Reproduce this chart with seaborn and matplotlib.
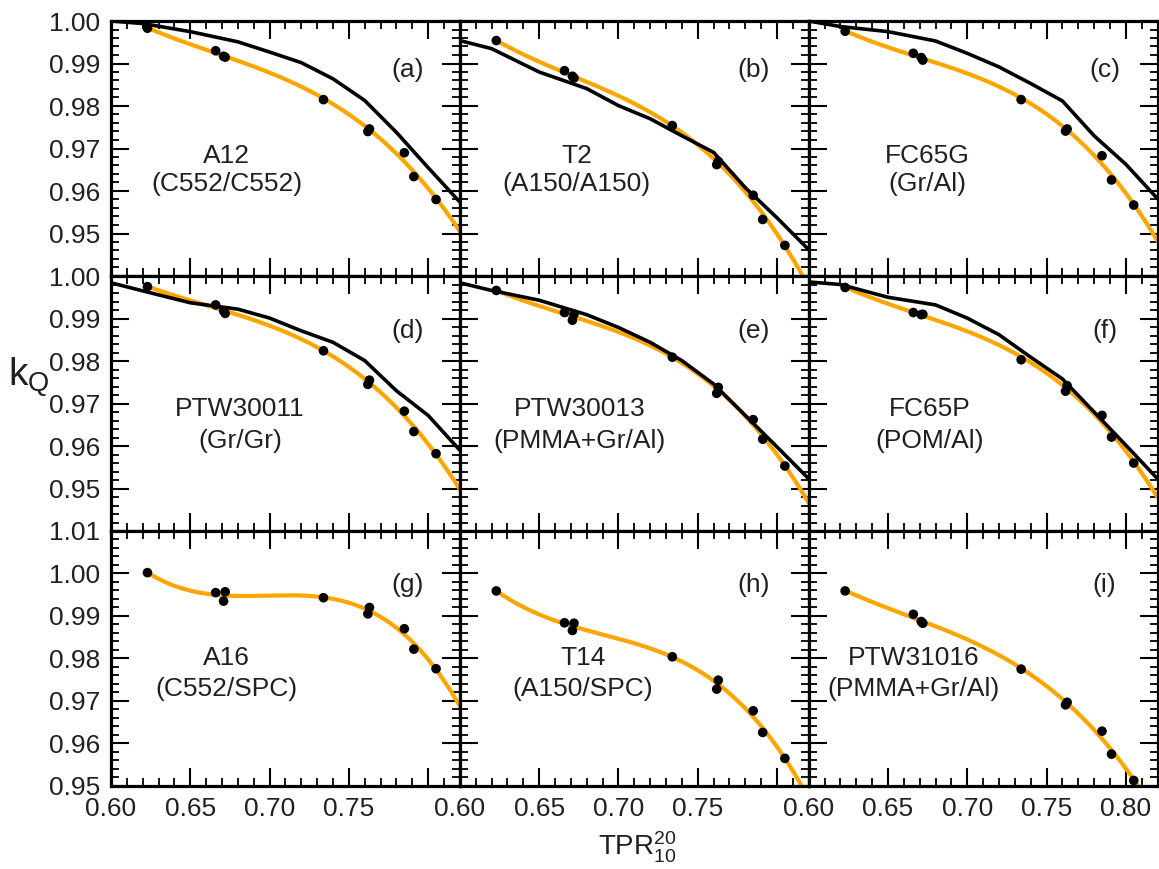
import numpy as np
import matplotlib
matplotlib.use("Agg")
import matplotlib.pyplot as plt
from matplotlib.ticker import MultipleLocator
import seaborn as sns

# beam qualities of the measured points (same for every chamber)
tpr = [0.623, 0.666, 0.671, 0.672, 0.734, 0.762, 0.763, 0.785, 0.791, 0.805]

# measured kQ, one list per chamber
kq_a = [0.9983, 0.9930, 0.9917, 0.9915, 0.9815, 0.9740, 0.9746, 0.9690, 0.9634, 0.9580]
kq_b = [0.9954, 0.9883, 0.9870, 0.9866, 0.9754, 0.9662, 0.9670, 0.9590, 0.9533, 0.9472]
kq_c = [0.9976, 0.9924, 0.9914, 0.9908, 0.9815, 0.9741, 0.9746, 0.9683, 0.9626, 0.9567]
kq_d = [0.9975, 0.9932, 0.9918, 0.9912, 0.9824, 0.9745, 0.9755, 0.9682, 0.9634, 0.9582]
kq_e = [0.9966, 0.9914, 0.9896, 0.9910, 0.9809, 0.9724, 0.9738, 0.9662, 0.9616, 0.9553]
kq_f = [0.9973, 0.9914, 0.9909, 0.9910, 0.9803, 0.9729, 0.9742, 0.9672, 0.9621, 0.9560]
kq_g = [1.0002, 0.9955, 0.9935, 0.9957, 0.9943, 0.9905, 0.9920, 0.9870, 0.9822, 0.9776]
kq_h = [0.9959, 0.9884, 0.9866, 0.9883, 0.9804, 0.9728, 0.9749, 0.9677, 0.9626, 0.9565]
kq_i = [0.9959, 0.9904, 0.9887, 0.9883, 0.9775, 0.9691, 0.9697, 0.9629, 0.9575, 0.9513]

# protocol table values (black lines, panels a-f)
tpr_ref = [0.60, 0.62, 0.65, 0.68, 0.70, 0.72, 0.74, 0.76, 0.78, 0.80, 0.82]
ref_a = [1.0000, 0.9994, 0.9975, 0.9951, 0.9927, 0.9902, 0.9864, 0.9813, 0.9738, 0.9655, 0.9574]
ref_b = [0.9954, 0.9935, 0.9880, 0.9841, 0.9801, 0.9770, 0.9730, 0.9691, 0.9608, 0.9537, 0.9462]
ref_c = [1.0000, 0.9987, 0.9975, 0.9953, 0.9924, 0.9892, 0.9853, 0.9812, 0.9730, 0.9663, 0.9582]
ref_d = [0.9984, 0.9965, 0.9937, 0.9922, 0.9901, 0.9871, 0.9844, 0.9801, 0.9730, 0.9672, 0.9590]
ref_e = [0.9984, 0.9966, 0.9943, 0.9909, 0.9879, 0.9844, 0.9801, 0.9746, 0.9672, 0.9598, 0.9523]
ref_f = [0.9986, 0.9980, 0.9950, 0.9932, 0.9901, 0.9862, 0.9809, 0.9758, 0.9680, 0.9602, 0.9523]

chambers = ["A12", "T2", "FC65G", "PTW30011", "PTW30013", "FC65P", "A16", "T14", "PTW31016"]
materials = ["(C552/C552)", "(A150/A150)", "(Gr/Al)", "(Gr/Gr)", "(PMMA+Gr/Al)",
             "(POM/Al)", "(C552/SPC)", "(A150/SPC)", "(PMMA+Gr/Al)"]
letters = ["(a)", "(b)", "(c)", "(d)", "(e)", "(f)", "(g)", "(h)", "(i)"]

x_ticks = [0.60, 0.65, 0.70, 0.75, 0.80]
y_ticks_top = [0.95, 0.96, 0.97, 0.98, 0.99, 1.00]
y_ticks_bottom = [0.95, 0.96, 0.97, 0.98, 0.99, 1.00, 1.01]

kq_all = [kq_a, kq_b, kq_c, kq_d, kq_e, kq_f, kq_g, kq_h, kq_i]
ref_all = [ref_a, ref_b, ref_c, ref_d, ref_e, ref_f, None, None, None]

# text placement (axes fraction)
name_x = [0.332, 0.335, 0.341, 0.370, 0.344, 0.347, 0.332, 0.352, 0.300]
name_y = [(0.472, 0.362), (0.477, 0.352), (0.502, 0.380)]
letter_x = [0.851, 0.842, 0.848]
letter_y = [0.807, 0.785, 0.788]

sns.set_style("ticks")
ink = "#231f20"
plt.rcParams["font.family"] = ["Liberation Sans", "DejaVu Sans"]
plt.rcParams["mathtext.fontset"] = "custom"
plt.rcParams["mathtext.rm"] = "Liberation Sans"
plt.rcParams["mathtext.it"] = "Liberation Sans:italic"
plt.rcParams["mathtext.default"] = "regular"

fig = plt.figure(figsize=(11.59, 8.69), dpi=100)
axes = fig.subplots(3, 3)
fig.subplots_adjust(left=111 / 1159, right=1157.5 / 1159, top=1 - 21 / 869,
                    bottom=1 - 786 / 869, wspace=0, hspace=0)

for k, ax in enumerate(axes.flat):
    row, col = divmod(k, 3)
    kq = np.array(kq_all[k])
    x = np.array(tpr)

    # smooth fit through the measured points
    coef = np.polyfit(x, kq, 3)
    xs = np.linspace(x.min(), 0.82, 200)
    sns.lineplot(x=xs, y=np.polyval(coef, xs), color="orange", lw=3.0, ax=ax, zorder=2)

    if ref_all[k] is not None:
        sns.lineplot(x=tpr_ref, y=ref_all[k], color="black", lw=2.6, ax=ax, zorder=3)

    sns.scatterplot(x=x, y=kq, color="black", s=48, edgecolor="none", ax=ax, zorder=4)

    ax.set_xlim(0.60, 0.82)
    if row < 2:
        ax.set_ylim(0.94, 1.00)
        ax.set_yticks(y_ticks_top, [f"{v:.2f}" for v in y_ticks_top])
    else:
        ax.set_ylim(0.95, 1.01)
        ax.set_yticks(y_ticks_bottom, [f"{v:.2f}" for v in y_ticks_bottom])
    if col == 2:
        ax.set_xticks(x_ticks, [f"{v:.2f}" for v in x_ticks])
    else:
        ax.set_xticks(x_ticks, [f"{v:.2f}" for v in x_ticks[:-1]] + [""])
    ax.xaxis.set_minor_locator(MultipleLocator(0.01))
    ax.yaxis.set_minor_locator(MultipleLocator(0.002))

    ax.tick_params(which="both", direction="in", top=True, right=True,
                   labelsize=19, labelcolor=ink, color="black")
    ax.tick_params(which="major", length=13, width=1.5)
    ax.tick_params(which="minor", length=6, width=1.3)
    ax.tick_params(axis="y", pad=8)
    ax.tick_params(axis="x", pad=8)
    ax.tick_params(labelleft=(col == 0), labelbottom=(row == 2))
    for s in ax.spines.values():
        s.set_linewidth(2.3)
        s.set_color("black")
    ax.set_xlabel("")
    ax.set_ylabel("")

    ax.text(name_x[k], name_y[row][0], chambers[k], transform=ax.transAxes,
            ha="center", va="center", fontsize=19, color=ink)
    ax.text(name_x[k], name_y[row][1], materials[k], transform=ax.transAxes,
            ha="center", va="center", fontsize=19, color=ink)
    ax.text(letter_x[col], letter_y[row], letters[k], transform=ax.transAxes,
            ha="center", va="center", fontsize=19, color=ink)

fig.text(637 / 1159, 1 - 847 / 869, r"TPR$_{10}^{20}$", ha="center", va="center",
         fontsize=20, color=ink)
fig.text(8 / 1159, 1 - 377 / 869, r"k$_{Q}$", ha="left", va="center",
         fontsize=28, color=ink)

fig.savefig("out.png", dpi=100)
